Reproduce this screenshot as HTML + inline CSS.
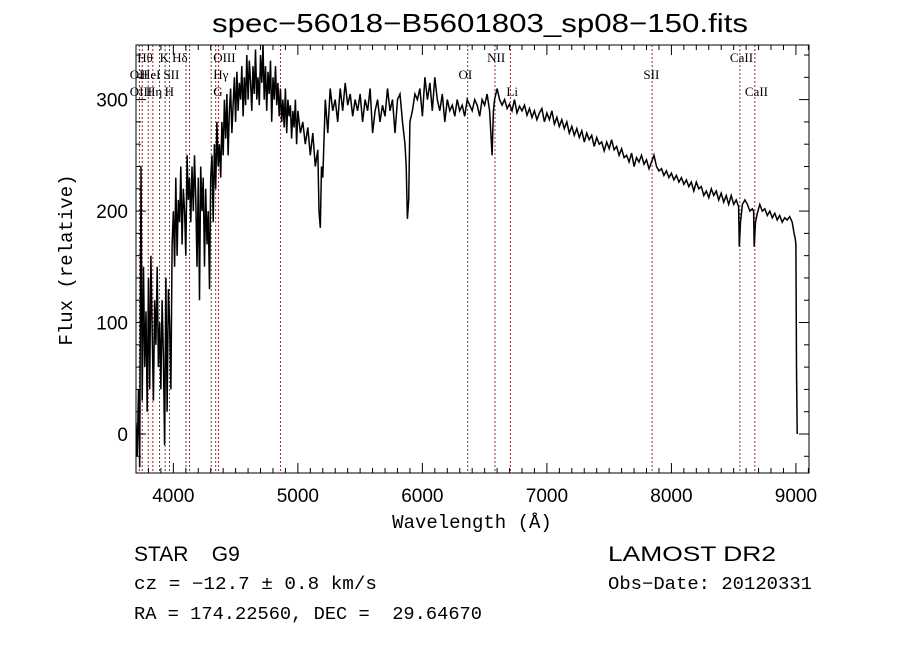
<!DOCTYPE html>
<html><head><meta charset="utf-8"><style>
body{margin:0;background:#fff;}
svg{display:block;}
text{font-family:"Liberation Sans",sans-serif;fill:#000;white-space:pre;}
.lab{font-family:"Liberation Serif",serif;font-size:13px;}
.mono{font-family:"Liberation Mono",monospace;}
</style></head><body>
<svg id="chart" width="900" height="649" viewBox="0 0 900 649" xmlns="http://www.w3.org/2000/svg">
<rect width="900" height="649" fill="#fff"/>
<text x="212" y="32" font-size="26" textLength="536" lengthAdjust="spacingAndGlyphs">spec−56018−B5601803_sp08−150.fits</text>
<g id="lines"></g>
<g id="spec"></g>
<g id="axes"></g>
<text class="mono" transform="translate(72,260) rotate(-90)" text-anchor="middle" font-size="19">Flux (relative)</text>
<text class="mono" x="472" y="528" text-anchor="middle" font-size="19">Wavelength (Å)</text>
<text x="134" y="561" font-size="21" xml:space="preserve">STAR    G9</text>
<text x="608" y="561" font-size="21" textLength="168" lengthAdjust="spacingAndGlyphs">LAMOST DR2</text>
<text class="mono" x="134" y="589" font-size="18" textLength="243" lengthAdjust="spacingAndGlyphs">cz = −12.7 ± 0.8 km/s</text>
<text class="mono" x="608" y="589" font-size="18" textLength="204" lengthAdjust="spacingAndGlyphs">Obs−Date: 20120331</text>
<text class="mono" x="134" y="619" font-size="18" textLength="348" lengthAdjust="spacingAndGlyphs" xml:space="preserve">RA = 174.22560, DEC =  29.64670</text>
</svg>
<script>
const wave=[3700,3710,3720,3730,3740,3750,3760,3770,3780,3790,3800,3810,3820,3830,3840,3850,3860,3870,3880,3890,3900,3910,3920,3930,3940,3950,3960,3970,3980,3990,4000,4010,4020,4030,4040,4050,4060,4070,4080,4090,4100,4110,4120,4130,4140,4150,4160,4170,4180,4190,4200,4210,4220,4230,4240,4250,4260,4270,4280,4290,4300,4310,4320,4330,4340,4350,4360,4370,4380,4390,4400,
4410,4420,4430,4440,4450,4460,4470,4480,4490,4500,4510,4520,4530,4540,4550,4560,4570,4580,4590,4600,4610,4620,4630,4640,4650,4660,4670,4680,4690,4700,4710,4720,4730,4740,4750,4760,4770,4780,4790,4800,4810,4820,4830,4840,4850,4860,4870,4880,4890,4900,4910,4920,4930,4940,4950,4960,4970,4980,4990,
5000,5020,5040,5060,5080,5100,5120,5140,5160,5170,5180,5190,5200,5220,5240,5260,5280,
5300,5320,5340,5360,5380,5400,5420,5440,5460,5480,5500,5520,5540,5560,5580,5600,5620,5640,5660,5680,5700,5720,5740,5760,5780,5800,5820,5840,5860,5870,5880,5890,5900,5920,5940,5960,5980,
6000,6020,6040,6060,6080,6100,6120,6140,6160,6180,6200,6220,6240,6260,6280,6300,6320,6340,6360,6380,6400,6420,6440,6460,6480,6500,6520,6540,6560,6570,6580,6600,6620,6640,6660,6680,
6700,6720,6740,6760,6780,6800,6820,6840,6860,6880,6900,6920,6940,6960,6980,7000,7020,7040,7060,7080,7100,7120,7140,7160,7180,7200,7220,7240,7260,7280,7300,7320,7340,7360,7380,7400,7420,7440,7460,7480,7500,7520,7540,7560,7580,7600,7620,7640,7660,7680,7700,7720,7740,7760,7780,7800,7820,7840,7860,7880,7900,7920,7940,7960,7980,8000,8020,8040,8060,8080,8100,8120,8140,8160,8180,8200,8220,8240,8260,8280,8300,8320,8340,8360,8380,8400,8420,8440,8460,8480,8500,8520,8540,8545,8555,8570,8590,8610,8630,8650,8660,8665,8675,8690,8710,8730,8750,8770,8790,8810,8830,8850,8870,8890,8910,8930,8950,8970,8985,8995,9000,9005,9010];
const flux=[10,-20,40,-30,240,30,150,60,110,20,140,40,160,90,30,120,80,150,60,100,40,120,70,-10,140,20,130,100,40,170,200,150,230,160,210,190,240,170,220,200,160,250,210,230,190,240,200,250,210,150,230,120,240,200,230,150,220,170,200,130,230,250,190,260,220,280,240,260,230,280,250,
300,265,305,250,290,310,270,295,320,280,325,290,315,300,330,285,320,295,340,300,335,315,290,330,305,345,300,320,295,340,315,350,300,330,290,325,305,335,280,320,300,330,295,315,285,310,280,300,275,310,270,300,285,295,265,290,275,300,260,
290,270,280,260,275,250,270,240,255,200,185,240,230,300,270,310,290,
300,280,310,290,315,295,305,285,300,290,305,280,300,290,310,270,290,300,280,295,285,310,290,300,270,300,305,280,260,240,193,210,280,290,305,300,310,
285,320,300,315,290,320,300,290,305,280,300,290,295,285,300,290,295,285,300,295,290,300,295,285,300,295,305,290,250,290,300,310,300,295,300,292,
296,290,300,288,294,290,295,286,292,284,290,282,288,292,280,288,282,290,278,284,276,282,274,280,270,276,268,274,266,272,262,270,264,268,258,266,260,262,254,262,256,264,255,258,250,256,248,250,244,252,240,248,244,250,242,246,238,244,250,240,236,238,232,236,230,234,228,232,226,230,224,228,222,226,218,226,220,222,214,218,212,220,214,218,210,216,208,214,206,214,206,210,204,168,190,206,210,206,200,202,200,168,190,198,206,200,202,196,200,194,198,192,196,190,194,192,195,190,180,175,170,60,0];
const xTicks=[4000,5000,6000,7000,8000,9000];
const yTicks=[0,100,200,300];
const lineWaves=[3727,3750,3798,3835,3889,3934,3969,4102,4130,4304,4340,4363,4861,6364,6583,6707,7845,8550,8670];
const lineLabels=["Hθ","K","Hδ","OIII","OII","HeI","SII","Hγ","OIII","Hη","H","G","OI","NII","Li","SII","CaII","CaII"];
const labelWaves=[3710,3890,3990,4320,3650,3740,3920,4320,3650,3780,3930,4320,6290,6520,6675,7775,8470,8590];
const labelRows=[0,0,0,0,1,1,1,1,2,2,2,2,1,0,2,1,0,2];

const L=136,R=809,T=45,B=473,X0=3700,X1=9105,Y0=-35,Y1=349;
const sx=w=>L+(w-X0)*(R-L)/(X1-X0);
const sy=f=>B-(f-Y0)*(B-T)/(Y1-Y0);
const NS="http://www.w3.org/2000/svg";
function mk(tag,attrs,parent){const e=document.createElementNS(NS,tag);for(const k in attrs)e.setAttribute(k,attrs[k]);parent.appendChild(e);return e;}

const lg=document.getElementById('lines');
lineWaves.forEach(w=>{
  const l=mk('line',{x1:sx(w),x2:sx(w),y1:T,y2:B,stroke:'#8b2a2a','stroke-width':1,'stroke-dasharray':'2,2'},lg);
  
  
});
const rowY=[62,79,96];
lineLabels.forEach((s,i)=>{
  const t=mk('text',{x:sx(labelWaves[i]),y:rowY[labelRows[i]],class:'lab'},lg);
  t.textContent=s;
  
  
});

const sg=document.getElementById('spec');
let d='';
wave.forEach((w,i)=>{d+=(i?'L':'M')+sx(w).toFixed(1)+','+sy(flux[i]).toFixed(1);});
const cp=mk('clipPath',{id:'clip'},sg);mk('rect',{x:L,y:T,width:R-L,height:B-T},cp);
const p=mk('path',{d:d,fill:'none',stroke:'#000','stroke-width':1.5,'clip-path':'url(#clip)'},sg);



const ag=document.getElementById('axes');
mk('rect',{x:L,y:T,width:R-L,height:B-T,fill:'none',stroke:'#000','stroke-width':1},ag);
for(let w=3800;w<X1;w+=100){
  const major=w%1000===0, len=major?10:5;
  mk('line',{x1:sx(w),x2:sx(w),y1:B,y2:B-len,stroke:'#000'},ag);
  mk('line',{x1:sx(w),x2:sx(w),y1:T,y2:T+len,stroke:'#000'},ag);
}
for(let f=-20;f<Y1;f+=20){
  const major=f%100===0, len=major?10:5;
  mk('line',{x1:L,x2:L+len,y1:sy(f),y2:sy(f),stroke:'#000'},ag);
  mk('line',{x1:R,x2:R-len,y1:sy(f),y2:sy(f),stroke:'#000'},ag);
}
xTicks.forEach(w=>{
  const t=mk('text',{x:sx(w),y:502,'text-anchor':'middle','font-size':19},ag);
  t.textContent=w;
  
  
});
yTicks.forEach(f=>{
  const t=mk('text',{x:128,y:sy(f)+7,'text-anchor':'end','font-size':19},ag);
  t.textContent=f;
  
  
});
</script>
</body></html>
